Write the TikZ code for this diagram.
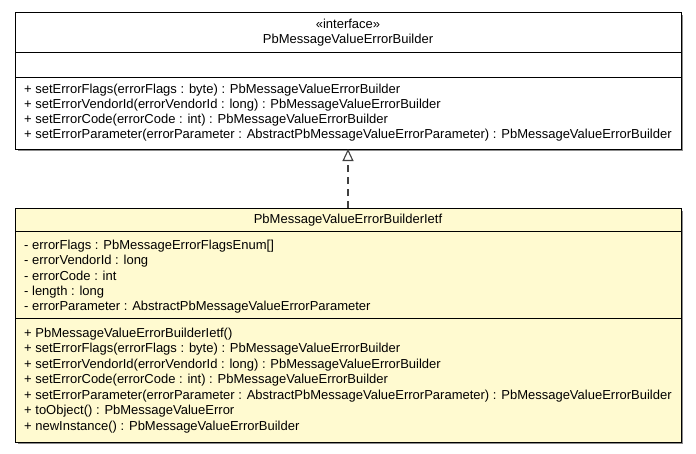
\documentclass[tikz,border=0pt]{standalone}
\usepackage{fontspec}
\setmainfont{Liberation Sans}
\usetikzlibrary{arrows.meta}
\definecolor{umlyellow}{RGB}{255,250,208}
\definecolor{edgegray}{RGB}{64,64,64}
\begin{document}
\begin{tikzpicture}[x=1pt,y=-1pt,
  classbox/.style={draw=black, line width=1pt, inner sep=0pt, outer sep=0pt,
    minimum width=666pt, anchor=north west},
  txt/.style={anchor=base west, inner sep=0pt, font=\fontsize{13}{15}\selectfont},
  ctr/.style={anchor=base, inner sep=0pt, font=\fontsize{13}{15}\selectfont},
  divider/.style={draw=black, line width=1pt},
  shadowline/.style={draw=black!45, line width=1pt},
  realize/.style={draw=edgegray, line width=1.3pt, dash pattern=on 7pt off 5pt,
    -{Triangle[open, length=12pt, width=11pt, line width=1.1pt, fill=white]}}
]
\useasboundingbox (0,0) rectangle (696,453);

% interface box
\node[classbox, fill=white, minimum height=137pt] (iface) at (15,12) {};
\draw[shadowline] ([shift={(1.5pt,-3pt)}]iface.north east) -- ([shift={(1.5pt,-1.5pt)}]iface.south east) -- ([shift={(3pt,-1.5pt)}]iface.south west);
\draw[divider] (iface.west |- 0,52) -- (iface.east |- 0,52);
\draw[divider] (iface.west |- 0,77) -- (iface.east |- 0,77);
\node[ctr] (ist) at (348,28) {«interface»};
\node[ctr] (iname) at (348,43) {PbMessageValueErrorBuilder};
\node[txt] (im1) at (24,93) {+ setErrorFlags(errorFlags : byte) : PbMessageValueErrorBuilder};
\node[txt] (im2) at (24,108.3) {+ setErrorVendorId(errorVendorId : long) : PbMessageValueErrorBuilder};
\node[txt] (im3) at (24,123.6) {+ setErrorCode(errorCode : int) : PbMessageValueErrorBuilder};
\node[txt] (im4) at (24,138.9) {+ setErrorParameter(errorParameter : AbstractPbMessageValueErrorParameter) : PbMessageValueErrorBuilder};

% implementation box
\node[classbox, fill=umlyellow, minimum height=234pt] (impl) at (15,208) {};
\draw[shadowline] ([shift={(1.5pt,-3pt)}]impl.north east) -- ([shift={(1.5pt,-1.5pt)}]impl.south east) -- ([shift={(3pt,-1.5pt)}]impl.south west);
\draw[divider] (impl.west |- 0,231) -- (impl.east |- 0,231);
\draw[divider] (impl.west |- 0,318) -- (impl.east |- 0,318);
\node[ctr] (cname) at (348,223) {PbMessageValueErrorBuilderIetf};
\node[txt] (a1) at (24,249.5) {- errorFlags : PbMessageErrorFlagsEnum[]};
\node[txt] (a2) at (24,264.8) {- errorVendorId : long};
\node[txt] (a3) at (24,280) {- errorCode : int};
\node[txt] (a4) at (24,295.3) {- length : long};
\node[txt] (a5) at (24,310.5) {- errorParameter : AbstractPbMessageValueErrorParameter};
\node[txt] (m1) at (24,337) {+ PbMessageValueErrorBuilderIetf()};
\node[txt] (m2) at (24,352.5) {+ setErrorFlags(errorFlags : byte) : PbMessageValueErrorBuilder};
\node[txt] (m3) at (24,368) {+ setErrorVendorId(errorVendorId : long) : PbMessageValueErrorBuilder};
\node[txt] (m4) at (24,383.5) {+ setErrorCode(errorCode : int) : PbMessageValueErrorBuilder};
\node[txt] (m5) at (24,399) {+ setErrorParameter(errorParameter : AbstractPbMessageValueErrorParameter) : PbMessageValueErrorBuilder};
\node[txt] (m6) at (24,414.5) {+ toObject() : PbMessageValueError};
\node[txt] (m7) at (24,430) {+ newInstance() : PbMessageValueErrorBuilder};

% realization
\draw[realize] (impl.north) -- (iface.south);
\end{tikzpicture}
\end{document}
